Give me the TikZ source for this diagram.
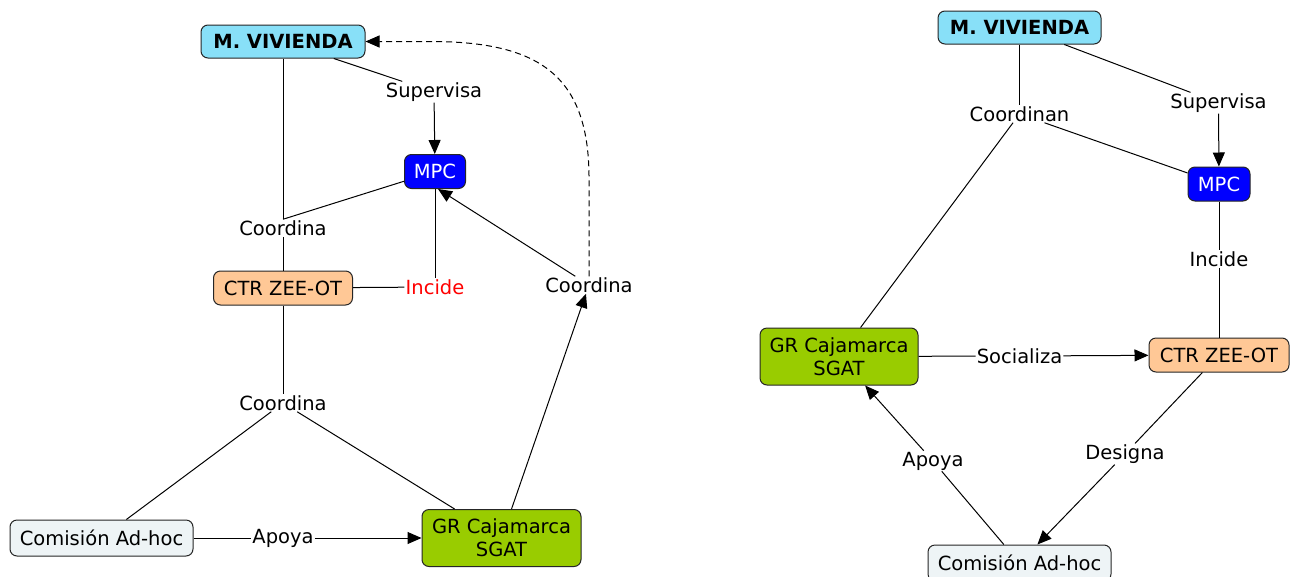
\documentclass[tikz,border=0pt]{standalone}
\usepackage{fontspec}
\setmainfont{DejaVu Sans}
\usetikzlibrary{arrows.meta}
\definecolor{cmcyan}{HTML}{88E0F8}
\definecolor{cmblue}{HTML}{0000FF}
\definecolor{cmpeach}{HTML}{FFC896}
\definecolor{cmgreen}{HTML}{99CC00}
\definecolor{cmlight}{HTML}{EEF4F6}
\begin{document}
\begin{tikzpicture}[x=1pt,y=-1pt,
  every node/.style={font=\fontsize{19.5pt}{23pt}\selectfont},
  concept/.style={draw=black!85, line width=1pt, rounded corners=7pt, inner sep=0pt, align=center},
  linkphrase/.style={inner sep=1pt},
  conn/.style={line width=1pt, black},
  arr/.style={conn, -{Triangle[length=14pt,width=12pt]}}
]
\clip (0,0) rectangle (1298,576);
\fill[white] (0,0) rectangle (1298,576);

% ---------- left diagram ----------
\node[concept, fill=cmcyan, minimum width=164pt, minimum height=33pt] (lmv) at (283,41.5) {\textbf{M. VIVIENDA}};
\node[concept, fill=cmblue, text=white, minimum width=61pt, minimum height=34pt] (lmpc) at (435,171.5) {MPC};
\node[concept, fill=cmpeach, minimum width=139pt, minimum height=34pt] (lctr) at (283,288) {CTR ZEE-OT};
\node[concept, fill=cmgreen, minimum width=159pt, minimum height=57pt] (lgr) at (501.5,538) {GR Cajamarca\\SGAT};
\node[concept, fill=cmlight, minimum width=183pt, minimum height=36pt] (lcom) at (101.5,538) {Comisión Ad-hoc};

\node[linkphrase] (ls) at (434,92) {Supervisa};
\node[linkphrase] (lc1) at (283,228) {Coordina};
\node[linkphrase, text=red] (li) at (435,287) {Incide};
\node[linkphrase] (lc2) at (589,285) {Coordina};
\node[linkphrase] (lc3) at (283,403) {Coordina};
\node[linkphrase] (la) at (283,538) {Apoya};

\draw[conn] (lmv) -- (ls);
\draw[arr] (ls) -- (lmpc);
\draw[conn] (lmv) -- (lc1);
\draw[conn] (lc1.north) -- (lmpc);
\draw[conn] (lc1) -- (lctr);
\draw[conn] (lmpc) -- (li);
\draw[conn] (lctr) -- (li);
\draw[arr] (lc2) -- ([xshift=3pt]lmpc.south);
\draw[conn, dash pattern=on 6pt off 4pt, -{Triangle[length=14pt,width=12pt]}] (lc2.north) -- ++(0,-95)
   .. controls +(1,-105) and +(110,0) .. ([xshift=65pt]lmv.east) -- (lmv.east);
\draw[arr] (lgr) -- (lc2);
\draw[conn] (lctr) -- (lc3);
\draw[conn] (lc3) -- (lcom);
\draw[conn] (lc3) -- (lgr);
\draw[conn] (lcom) -- (la);
\draw[arr] (la) -- (lgr);

% ---------- right diagram ----------
\node[concept, fill=cmcyan, minimum width=163pt, minimum height=33pt] (rmv) at (1019.5,27.5) {\textbf{M. VIVIENDA}};
\node[concept, fill=cmblue, text=white, minimum width=62pt, minimum height=34pt] (rmpc) at (1219,184) {MPC};
\node[concept, fill=cmpeach, minimum width=140pt, minimum height=34pt] (rctr) at (1219,355) {CTR ZEE-OT};
\node[concept, fill=cmgreen, minimum width=158pt, minimum height=57pt] (rgr) at (839,356.5) {GR Cajamarca\\SGAT};
\node[concept, fill=cmlight, minimum width=183pt, minimum height=36pt] (rcom) at (1019.5,563) {Comisión Ad-hoc};

\node[linkphrase] (rc) at (1019.5,114) {Coordinan};
\node[linkphrase] (rs) at (1218.5,103) {Supervisa};
\node[linkphrase] (ri) at (1219,259) {Incide};
\node[linkphrase] (rso) at (1019.5,356) {Socializa};
\node[linkphrase] (rd) at (1125,454) {Designa};
\node[linkphrase] (ra) at (933,461) {Apoya};

\draw[conn] (rmv) -- (rc);
\draw[conn] (rc) -- (rmpc);
\draw[conn] (rc) -- (rgr);
\draw[conn] (rmv) -- (rs);
\draw[arr] (rs) -- (rmpc);
\draw[conn] (rmpc) -- (ri);
\draw[conn] (ri) -- (rctr);
\draw[conn] (rgr) -- (rso);
\draw[arr] (rso) -- (rctr);
\draw[conn] (rctr) -- (rd);
\draw[arr] (rd) -- (rcom);
\draw[conn] (rcom) -- (ra);
\draw[arr] (ra) -- (rgr);
\end{tikzpicture}
\end{document}
